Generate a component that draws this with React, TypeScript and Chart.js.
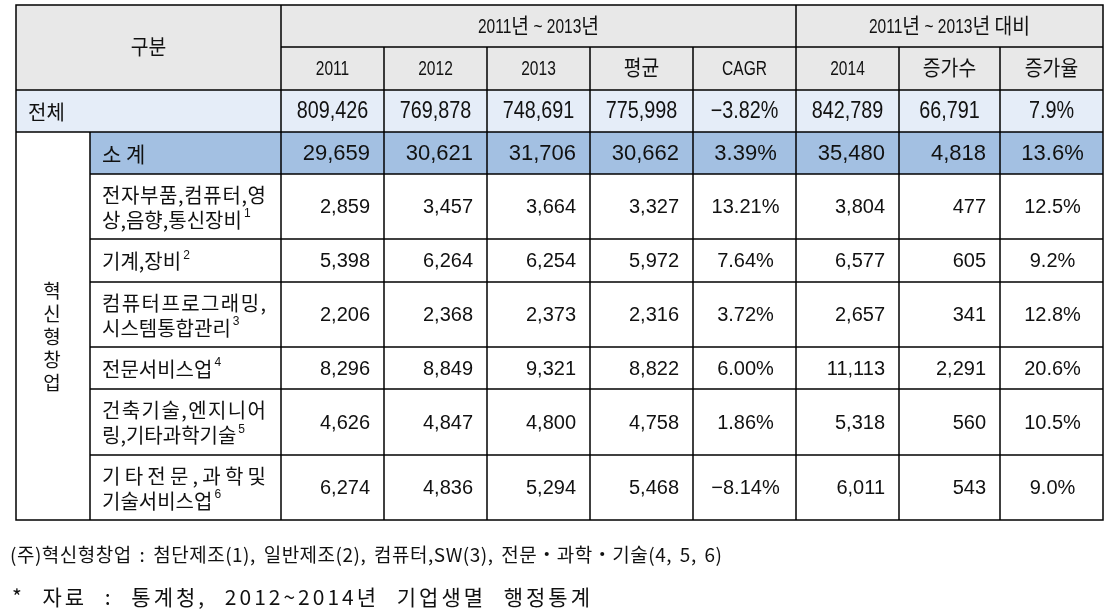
import React, { useEffect, useRef } from 'react';
import { Chart, registerables } from 'chart.js';

Chart.register(...registerables);

// ---------------- data ----------------
const cornerHeader = '구분';
const groupHeaders = ['2011년 ~ 2013년', '2011년 ~ 2013년 대비'];
const colHeaders = ['2011', '2012', '2013', '평균', 'CAGR', '2014', '증가수', '증가율'];
const sideGroup = ['혁', '신', '형', '창', '업'];

const categories = [
  ['전체'],
  ['소 계'],
  ['전자부품,컴퓨터,영', '상,음향,통신장비'],
  ['기계,장비'],
  ['컴퓨터프로그래밍,', '시스템통합관리'],
  ['전문서비스업'],
  ['건축기술,엔지니어', '링,기타과학기술'],
  ['기타전문,과학및', '기술서비스업'],
];
const footMarks = ['', '', '1', '2', '3', '4', '5', '6'];

const v2011 = [809426, 29659, 2859, 5398, 2206, 8296, 4626, 6274];
const v2012 = [769878, 30621, 3457, 6264, 2368, 8849, 4847, 4836];
const v2013 = [748691, 31706, 3664, 6254, 2373, 9321, 4800, 5294];
const vAvg = [775998, 30662, 3327, 5972, 2316, 8822, 4758, 5468];
const vCagr = [-3.82, 3.39, 13.21, 7.64, 3.72, 6.0, 1.86, -8.14];
const v2014 = [842789, 35480, 3804, 6577, 2657, 11113, 5318, 6011];
const vIncr = [66791, 4818, 477, 605, 341, 2291, 560, 543];
const vRate = [7.9, 13.6, 12.5, 9.2, 12.8, 20.6, 10.5, 9.0];

const notes = [
  '(주)혁신형창업 : 첨단제조(1), 일반제조(2), 컴퓨터,SW(3), 전문・과학・기술(4, 5, 6)',
  '* 자료 : 통계청, 2012~2014년 기업생멸 행정통계',
];

// ---------------- layout (not data) ----------------
const W = 1105;
const H = 615;
const colEdges = [16, 90, 281, 384, 487, 590, 693, 796, 899, 1000, 1103];
const rowEdges = [5, 47, 90, 132, 174, 239, 282, 347, 389, 455, 520];
const noteLayout = [
  { x: 10, y: 555, w: 712, size: 19, ls: 0.5 },
  { x: 12, y: 597, w: 578, size: 21, ls: 3 },
];
const HEADER_BG = '#e8e8e8';
const TOTAL_BG = '#e5edf8';
const SUB_BG = '#a3c0e2';
const INK = '#111111';
const KR = "'Noto Sans CJK KR', sans-serif";
const NUM = "'Liberation Sans', 'Noto Sans CJK KR', sans-serif";

const fmtInt = (n: number) => n.toLocaleString('en-US');
const fmtPct = (n: number, d: number) => (n < 0 ? '−' : '') + Math.abs(n).toFixed(d) + '%';

const isHangul = (c: string) => /[\u1100-\u11ff\u3130-\u318f\uac00-\ud7af]/.test(c);

function splitRuns(text: string) {
  const runs: { s: string; h: boolean }[] = [];
  for (const ch of text) {
    const h = isHangul(ch);
    const last = runs[runs.length - 1];
    if (last && last.h === h) last.s += ch;
    else runs.push({ s: ch, h });
  }
  return runs;
}

function drawRuns(
  ctx: CanvasRenderingContext2D,
  text: string,
  x: number,
  y: number,
  align: 'left' | 'center' | 'right',
  font: string,
  sxLatin = 1,
  sxHangul = 1,
) {
  ctx.font = font;
  const runs = splitRuns(text);
  const widths = runs.map((r) => ctx.measureText(r.s).width * (r.h ? sxHangul : sxLatin));
  const total = widths.reduce((a, b) => a + b, 0);
  let cx = align === 'center' ? x - total / 2 : align === 'right' ? x - total : x;
  runs.forEach((r, i) => {
    ctx.save();
    ctx.translate(cx, y);
    ctx.scale(r.h ? sxHangul : sxLatin, 1);
    ctx.textAlign = 'left';
    ctx.fillText(r.s, 0, 0);
    ctx.restore();
    cx += widths[i];
  });
  return cx;
}

function drawSpaced(ctx: CanvasRenderingContext2D, text: string, x: number, y: number, font: string, spacing: number) {
  ctx.font = font;
  ctx.textAlign = 'left';
  let cx = x;
  for (const ch of text) {
    ctx.fillText(ch, cx, y);
    cx += ctx.measureText(ch).width + spacing;
  }
  return cx - spacing;
}

function justifiedSpacing(ctx: CanvasRenderingContext2D, text: string, font: string, target: number) {
  ctx.font = font;
  const chars = Array.from(text);
  let w = 0;
  chars.forEach((c) => (w += ctx.measureText(c).width));
  return chars.length > 1 ? (target - w) / (chars.length - 1) : 0;
}

// letter spacing ls, remaining room goes into the word spaces
function drawWordJustified(
  ctx: CanvasRenderingContext2D,
  text: string,
  x: number,
  y: number,
  font: string,
  target: number,
  ls: number,
) {
  ctx.font = font;
  ctx.textAlign = 'left';
  const chars = Array.from(text);
  let w = 0;
  let spaces = 0;
  chars.forEach((c) => {
    w += ctx.measureText(c).width;
    if (c === ' ') spaces++;
  });
  const extra = spaces > 0 ? Math.max(0, (target - w - ls * (chars.length - 1)) / spaces) : 0;
  let cx = x;
  chars.forEach((c) => {
    if (c !== ' ') ctx.fillText(c, cx, y);
    cx += ctx.measureText(c).width + ls + (c === ' ' ? extra : 0);
  });
}

const tablePlugin = {
  id: 'tablePlugin',
  afterDraw(chart: any) {
    const ctx: CanvasRenderingContext2D = chart.ctx;
    const xs = chart.scales.x;
    const ys = chart.scales.y;
    const px = (v: number) => xs.getPixelForValue(v);
    const py = (v: number) => ys.getPixelForValue(v);
    const X = colEdges.map(px);
    const Y = rowEdges.map(py);

    ctx.save();
    ctx.fillStyle = '#ffffff';
    ctx.fillRect(0, 0, chart.width, chart.height);

    // backgrounds
    ctx.fillStyle = HEADER_BG;
    ctx.fillRect(X[0], Y[0], X[10] - X[0], Y[2] - Y[0]);
    ctx.fillStyle = TOTAL_BG;
    ctx.fillRect(X[0], Y[2], X[10] - X[0], Y[3] - Y[2]);
    ctx.fillStyle = SUB_BG;
    ctx.fillRect(X[1], Y[3], X[10] - X[1], Y[4] - Y[3]);

    // grid lines
    ctx.strokeStyle = '#000000';
    ctx.lineWidth = 1.5;
    const hl = (y: number, x1: number, x2: number) => {
      ctx.beginPath();
      ctx.moveTo(x1, y);
      ctx.lineTo(x2, y);
      ctx.stroke();
    };
    const vl = (x: number, y1: number, y2: number) => {
      ctx.beginPath();
      ctx.moveTo(x, y1);
      ctx.lineTo(x, y2);
      ctx.stroke();
    };
    ctx.strokeRect(X[0], Y[0], X[10] - X[0], Y[10] - Y[0]);
    hl(Y[1], X[2], X[10]);
    hl(Y[2], X[0], X[10]);
    hl(Y[3], X[0], X[10]);
    for (let r = 4; r < 10; r++) hl(Y[r], X[1], X[10]);
    vl(X[2], Y[0], Y[10]);
    vl(X[7], Y[0], Y[10]);
    [3, 4, 5, 6, 8, 9].forEach((c) => vl(X[c], Y[1], Y[10]));
    vl(X[1], Y[3], Y[10]);

    ctx.fillStyle = INK;
    ctx.textBaseline = 'middle';

    // headers
    const hFont = `21px ${NUM}`;
    drawRuns(ctx, cornerHeader, (X[0] + X[2]) / 2, (Y[0] + Y[2]) / 2 + 1, 'center', hFont, 0.74, 0.92);
    drawRuns(ctx, groupHeaders[0], (X[2] + X[7]) / 2, (Y[0] + Y[1]) / 2 + 1, 'center', hFont, 0.74, 0.92);
    drawRuns(ctx, groupHeaders[1], (X[7] + X[10]) / 2, (Y[0] + Y[1]) / 2 + 1, 'center', hFont, 0.74, 0.92);
    colHeaders.forEach((h, j) => {
      drawRuns(ctx, h, (X[j + 2] + X[j + 3]) / 2, (Y[1] + Y[2]) / 2 + 1, 'center', hFont, 0.74, 0.92);
    });

    // side group (vertical)
    sideGroup.forEach((ch, i) => {
      ctx.font = `19px ${KR}`;
      ctx.textAlign = 'center';
      ctx.fillText(ch, px(52), py(291 + i * 23));
    });

    // rows
    const series = [v2011, v2012, v2013, vAvg, vCagr, v2014, vIncr, vRate];
    categories.forEach((lines, i) => {
      const top = Y[i + 2];
      const bot = Y[i + 3];
      const cy = (top + bot) / 2 + 1;
      const labelX = i === 0 ? X[0] + 12 : X[1] + 12;
      const lFont = i === 1 ? `21px ${KR}` : `20px ${KR}`;
      let endX = 0;
      let lastY = cy;
      if (lines.length === 1) {
        endX = drawSpaced(ctx, lines[0], labelX, cy, lFont, 0);
      } else {
        const sp = justifiedSpacing(ctx, lines[0], lFont, 164);
        drawSpaced(ctx, lines[0], labelX, cy - 12.5, lFont, sp);
        lastY = cy + 12.5;
        endX = drawSpaced(ctx, lines[1], labelX, lastY, lFont, 0);
      }
      if (footMarks[i]) {
        ctx.font = `12px ${NUM}`;
        ctx.textAlign = 'left';
        ctx.fillText(footMarks[i], endX + 2, lastY - 6);
      }

      series.forEach((arr, j) => {
        const l = X[j + 2];
        const r = X[j + 3];
        const isPct = j === 4 || j === 7;
        const text = j === 4 ? fmtPct(arr[i], 2) : j === 7 ? fmtPct(arr[i], 1) : fmtInt(arr[i]);
        if (i === 0) {
          drawRuns(ctx, text, (l + r) / 2, cy, 'center', `23px ${NUM}`, 0.86, 1);
        } else {
          const f = i === 1 ? `22px ${NUM}` : `20px ${NUM}`;
          if (isPct) drawRuns(ctx, text, (l + r) / 2 + 1, cy, 'center', f, 1, 1);
          else drawRuns(ctx, text, r - 14, cy, 'right', f, 1, 1);
        }
      });
    });

    // notes
    notes.forEach((t, k) => {
      const nl = noteLayout[k];
      drawWordJustified(ctx, t, px(nl.x), py(nl.y), `${nl.size}px ${KR}`, nl.w, nl.ls);
    });

    ctx.restore();
  },
};

export default function App() {
  const ref = useRef<HTMLCanvasElement | null>(null);
  useEffect(() => {
    if (!ref.current) return;
    const chart = new Chart(ref.current, {
      type: 'scatter',
      data: { datasets: [{ data: [], pointRadius: 0 }] },
      options: {
        animation: false,
        responsive: false,
        maintainAspectRatio: false,
        events: [],
        layout: { padding: 0 },
        plugins: { legend: { display: false }, tooltip: { enabled: false } },
        scales: {
          x: { type: 'linear', min: 0, max: W, display: false },
          y: { type: 'linear', min: 0, max: H, reverse: true, display: false },
        },
      },
      plugins: [tablePlugin],
    } as any);
    return () => chart.destroy();
  }, []);
  return (
    <div style={{ position: 'absolute', left: 0, top: 0, width: W, height: H, background: '#fff' }}>
      <canvas ref={ref} width={W} height={H} style={{ display: 'block', width: W, height: H }} />
    </div>
  );
}
